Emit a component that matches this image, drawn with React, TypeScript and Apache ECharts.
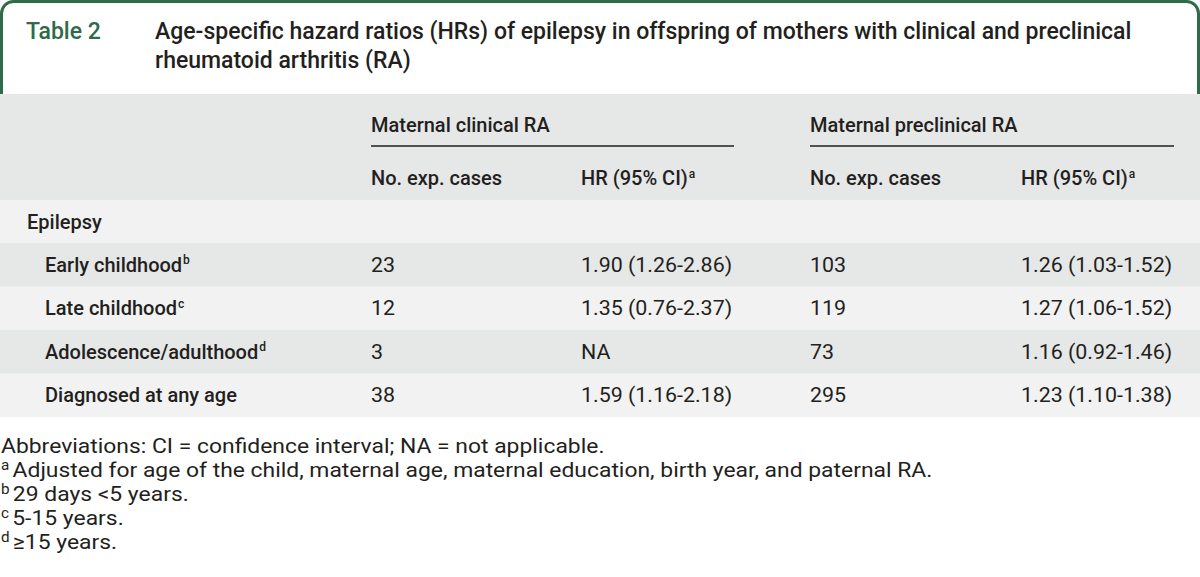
import React, { useEffect, useRef } from "react";
import * as echarts from "echarts";

const tableLabel = "Table 2";
const titleLines = [
  "Age-specific hazard ratios (HRs) of epilepsy in offspring of mothers with clinical and preclinical",
  "rheumatoid arthritis (RA)",
];
const groupHeaders = ["Maternal clinical RA", "Maternal preclinical RA"];
const subHeaders = ["No. exp. cases", "HR (95% CI)", "No. exp. cases", "HR (95% CI)"];
const subHeaderSups = ["", "a", "", "a"];
const sectionLabel = "Epilepsy";
const rowLabels = ["Early childhood", "Late childhood", "Adolescence/adulthood", "Diagnosed at any age"];
const rowSups = ["b", "c", "d", ""];
const clinicalCases = ["23", "12", "3", "38"];
const clinicalHR = ["1.90 (1.26-2.86)", "1.35 (0.76-2.37)", "NA", "1.59 (1.16-2.18)"];
const preclinicalCases = ["103", "119", "73", "295"];
const preclinicalHR = ["1.26 (1.03-1.52)", "1.27 (1.06-1.52)", "1.16 (0.92-1.46)", "1.23 (1.10-1.38)"];
const footSups = ["", "a", "b", "c", "d"];
const footnotes = [
  "Abbreviations: CI = confidence interval; NA = not applicable.",
  "Adjusted for age of the child, maternal age, maternal education, birth year, and paternal RA.",
  "29 days <5 years.",
  "5-15 years.",
  "≥15 years.",
];

const GREEN = "#2e6b48";
const DARK = "#231f20";
const BAND = "#e6e7e7";
const LIGHT = "#f2f2f2";
const FONT = "Roboto, 'Liberation Sans', sans-serif";

export default function App() {
  const ref = useRef<HTMLDivElement>(null);
  useEffect(() => {
    document.body.style.margin = "0";
    const chart = echarts.init(ref.current!, null, { renderer: "svg" });
    const els: any[] = [];
    els.push({
      type: "rect",
      shape: { x: 1.5, y: 1.5, width: 1197, height: 110, r: [12, 12, 0, 0] },
      style: { fill: "#fff", stroke: GREEN, lineWidth: 3 },
    });
    els.push({
      type: "text", x: 26, y: 31,
      style: { text: tableLabel, font: `500 23px ${FONT}`, fill: GREEN, verticalAlign: "middle" },
    });
    titleLines.forEach((t, i) =>
      els.push({
        type: "text", x: 155, y: 31 + i * 29,
        style: { text: t, font: `500 23px ${FONT}`, fill: DARK, verticalAlign: "middle" },
      })
    );
    els.push({ type: "rect", shape: { x: 0, y: 94, width: 1200, height: 106 }, style: { fill: BAND } });
    els.push({ type: "rect", shape: { x: 0, y: 200, width: 1200, height: 217 }, style: { fill: LIGHT } });
    const rowTop = 243;
    const rowH = 43.5;
    rowLabels.forEach((_, i) => {
      if (i % 2 === 0)
        els.push({ type: "rect", shape: { x: 0, y: rowTop + i * rowH, width: 1200, height: rowH }, style: { fill: BAND } });
    });
    const groupX = [371, 810];
    const groupEnd = [734, 1174];
    groupHeaders.forEach((g, i) => {
      els.push({
        type: "text", x: groupX[i], y: 125,
        style: { text: g, font: `500 20px ${FONT}`, fill: DARK, verticalAlign: "middle" },
      });
      els.push({
        type: "line", shape: { x1: groupX[i], y1: 146, x2: groupEnd[i], y2: 146 },
        style: { stroke: DARK, lineWidth: 1.5 },
      });
    });
    const colX = [371, 581, 810, 1021];
    const rich = {
      sup: { fontSize: 12, fontFamily: FONT, fontWeight: 500, verticalAlign: "top", padding: [0, 0, 9, 1], fill: DARK },
      supf: { fontSize: 14, fontFamily: FONT, verticalAlign: "top", padding: [0, 3, 9, 0], fill: DARK },
    };
    subHeaders.forEach((s, i) =>
      els.push({
        type: "text", x: colX[i], y: 178,
        style: {
          text: s + (subHeaderSups[i] ? `{sup|${subHeaderSups[i]}}` : ""),
          font: `500 20px ${FONT}`, fill: DARK, verticalAlign: "middle", rich,
        },
      })
    );
    els.push({
      type: "text", x: 27, y: 222,
      style: { text: sectionLabel, font: `500 20px ${FONT}`, fill: DARK, verticalAlign: "middle" },
    });
    rowLabels.forEach((lab, i) => {
      const cy = rowTop + i * rowH + rowH / 2;
      els.push({
        type: "text", x: 45, y: cy,
        style: {
          text: lab + (rowSups[i] ? `{sup|${rowSups[i]}}` : ""),
          font: `500 20px ${FONT}`, fill: DARK, verticalAlign: "middle", rich,
        },
      });
      [clinicalCases[i], clinicalHR[i], preclinicalCases[i], preclinicalHR[i]].forEach((v, j) =>
        els.push({
          type: "text", x: colX[j], y: cy, scaleX: 1.07,
          style: { text: v, font: `400 20px ${FONT}`, fill: DARK, verticalAlign: "middle" },
        })
      );
    });
    footnotes.forEach((f, i) =>
      els.push({
        type: "text", x: 1, y: 446 + i * 24, scaleX: 1.09,
        style: {
          text: (footSups[i] ? `{supf|${footSups[i]}}` : "") + f,
          font: `400 21px ${FONT}`, fill: DARK, verticalAlign: "middle", rich,
        },
      })
    );
    chart.setOption({ animation: false, graphic: { elements: els } });
    return () => chart.dispose();
  }, []);
  return <div ref={ref} style={{ width: 1200, height: 577, background: "#fff" }} />;
}
